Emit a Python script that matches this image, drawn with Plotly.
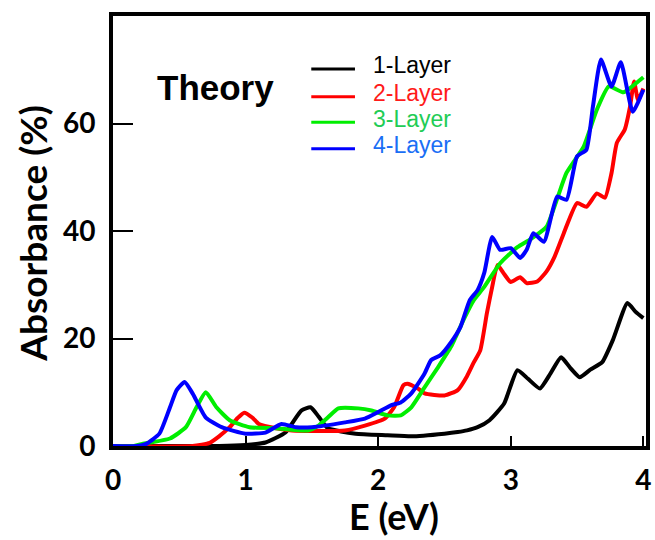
import plotly.graph_objects as go

# ---- data ----
e_1layer = [0, 0.8, 1.0, 1.15, 1.3, 1.42, 1.49, 1.55, 1.62, 1.72, 1.83, 2.07, 2.25, 2.5, 2.6, 2.67,
            2.75, 2.84, 2.95, 3.05, 3.13, 3.22, 3.3, 3.38, 3.45, 3.52, 3.6, 3.69, 3.77, 3.88, 3.94, 4.0]
a_1layer = [0, 0, 0.2, 0.65, 2.5, 6.6, 7.2, 5.5, 3.3, 2.7, 2.3, 2.0, 1.8, 2.3, 2.6, 2.9,
            3.5, 4.8, 7.9, 14.1, 12.5, 10.7, 13.5, 16.5, 14.5, 12.8, 14.2, 15.6, 19.7, 26.6, 25.0, 23.8]

e_2layer = [0, 0.6, 0.73, 0.8, 0.88, 0.94, 0.99, 1.05, 1.1, 1.23, 1.35, 1.5, 1.75, 1.9, 2.05, 2.12,
            2.19, 2.22, 2.3, 2.35, 2.5, 2.6, 2.67, 2.72, 2.77, 2.82, 2.86, 2.9, 2.95, 3.0, 3.07, 3.12,
            3.2, 3.27, 3.33, 3.4, 3.5, 3.57, 3.65, 3.71, 3.76, 3.8, 3.86, 3.9, 3.93, 3.96, 4.0]
a_2layer = [0, 0, 0.6, 1.8, 3.5, 5.2, 6.2, 5.3, 4.1, 3.3, 2.9, 2.8, 2.9, 3.8, 5.1, 7.2,
            11.3, 11.6, 10.7, 9.8, 9.4, 10.4, 13.0, 15.5, 17.8, 24.7, 29.6, 33.7, 32.0, 30.5, 31.4, 30.3,
            30.6, 32.5, 35.2, 39.6, 45.2, 44.5, 47.0, 46.2, 50.8, 56.4, 58.9, 63.2, 67.8, 64.4, 66.5]

e_3layer = [0, 0.15, 0.22, 0.43, 0.55, 0.63, 0.7, 0.78, 0.88, 1.03, 1.23, 1.47, 1.55, 1.62, 1.7, 1.85,
            1.95, 2.07, 2.17, 2.25, 2.35, 2.45, 2.55, 2.65, 2.72, 2.8, 2.92, 3.05, 3.15, 3.27, 3.35, 3.42,
            3.55, 3.65, 3.74, 3.85, 3.95, 4.0]
a_3layer = [0, 0, 0.4, 1.4, 3.5, 7.2, 10.0, 7.2, 4.8, 3.5, 3.3, 2.9, 3.8, 5.3, 7.0, 7.0,
            6.6, 5.7, 5.7, 7.2, 10.9, 14.6, 18.5, 23.8, 27.1, 29.6, 34.0, 37.0, 38.5, 40.8, 46.0, 50.8,
            55.7, 62.6, 66.9, 65.8, 67.6, 68.6]

e_4layer = [0, 0.18, 0.25, 0.35, 0.43, 0.48, 0.54, 0.6, 0.7, 0.82, 1.0, 1.15, 1.27, 1.38, 1.5, 1.75,
            1.9, 2.0, 2.1, 2.17, 2.25, 2.35, 2.4, 2.47, 2.55, 2.62, 2.69, 2.75, 2.8, 2.86, 2.92, 3.0,
            3.07, 3.12, 3.17, 3.25, 3.35, 3.42, 3.5, 3.57, 3.62, 3.68, 3.76, 3.83, 3.92, 4.0]
a_4layer = [0, 0, 0.4, 2.3, 7.2, 10.4, 11.9, 9.8, 5.3, 3.5, 2.3, 2.5, 4.1, 3.5, 3.5, 4.4,
            5.1, 6.3, 7.6, 8.1, 9.8, 13.5, 16.0, 16.9, 19.3, 22.1, 27.1, 29.0, 32.2, 38.9, 36.5, 36.8,
            35.0, 36.5, 39.6, 38.0, 46.4, 45.8, 53.9, 55.1, 63.2, 71.9, 66.9, 71.4, 62.2, 66.3]

series_names = ["1-Layer", "2-Layer", "3-Layer", "4-Layer"]
line_colors = ["#000000", "#ff0000", "#00ee00", "#0000ff"]
text_colors = ["#000000", "#ff1a1a", "#22cc55", "#1a6ef5"]

x_ticks = [0, 1, 2, 3, 4]
y_ticks = [0, 20, 40, 60]

series = [(e_1layer, a_1layer), (e_2layer, a_2layer), (e_3layer, a_3layer), (e_4layer, a_4layer)]

fig = go.Figure()
for (ex, ay), name, col in zip(series, series_names, line_colors):
    fig.add_trace(go.Scatter(x=ex, y=ay, mode="lines", name=name,
                             line=dict(color=col, width=4, shape="spline", smoothing=0.5),
                             showlegend=False))

tick_font = dict(family="Lato", size=28, color="black", weight="bold")

fig.update_layout(
    width=655, height=540,
    margin=dict(l=113, r=5, t=16, b=94),
    paper_bgcolor="white", plot_bgcolor="white",
    xaxis=dict(range=[0, 4.02], tickvals=x_ticks, ticktext=[str(v) for v in x_ticks],
               ticks="inside", ticklen=10, tickwidth=1.5, tickcolor="black",
               showline=True, linewidth=4, linecolor="black", mirror=True,
               showgrid=False, zeroline=False, tickfont=tick_font, ticklabelstandoff=6),
    yaxis=dict(range=[0, 80], tickvals=y_ticks, ticktext=[str(v) for v in y_ticks],
               ticks="inside", ticklen=20, tickwidth=1.5, tickcolor="black",
               showline=True, linewidth=4, linecolor="black", mirror=True,
               showgrid=False, zeroline=False, tickfont=tick_font, ticklabelstandoff=8),
)

# axis titles
fig.add_annotation(text="E (eV)", xref="paper", yref="paper", x=0.527, y=-0.163,
                   xanchor="center", yanchor="middle", showarrow=False,
                   font=dict(family="Lato", size=36, color="black", weight="bold"))
fig.add_annotation(text="Absorbance (%)", xref="paper", yref="paper", x=-0.151, y=0.495,
                   xanchor="center", yanchor="middle", showarrow=False, textangle=-90,
                   font=dict(family="Lato", size=37, color="black", weight="bold"))

# "Theory" label
fig.add_annotation(text="Theory", xref="paper", yref="paper", x=0.078, y=0.833,
                   xanchor="left", yanchor="middle", showarrow=False,
                   font=dict(family="Liberation Sans", size=35, color="black", weight="bold"))

# legend (manual)
leg_y = [0.877, 0.812, 0.753, 0.691]
for name, lc, tc, yy in zip(series_names, line_colors, text_colors, leg_y):
    fig.add_shape(type="line", xref="paper", yref="paper", x0=0.372, x1=0.454, y0=yy, y1=yy,
                  line=dict(color=lc, width=3))
    fig.add_annotation(text=name, xref="paper", yref="paper", x=0.484, y=yy + 0.008,
                       xanchor="left", yanchor="middle", showarrow=False,
                       font=dict(family="Liberation Sans", size=23, color=tc))

fig.write_html("out.html")
